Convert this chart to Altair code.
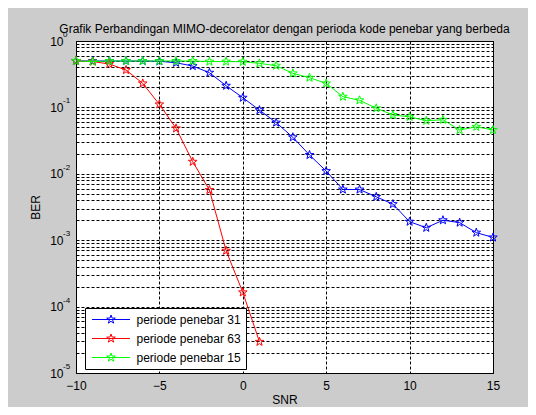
import math
import altair as alt
import pandas as pd

# ---------------- data ----------------
snr_31 = list(range(-10, 16))
ber_31 = [0.50, 0.50, 0.50, 0.50, 0.50, 0.495, 0.47, 0.42, 0.333, 0.212,
          0.14, 0.091, 0.059, 0.0355, 0.0192, 0.011, 0.0058, 0.0058, 0.0045,
          0.0035, 0.0019, 0.00154, 0.0020, 0.00184, 0.0013, 0.0011]

snr_63 = list(range(-10, 2))
ber_63 = [0.50, 0.49, 0.45, 0.366, 0.23, 0.111, 0.0484, 0.0152, 0.0057,
          0.000695, 0.000164, 2.95e-5]

snr_15 = list(range(-10, 16))
ber_15 = [0.50, 0.49, 0.50, 0.50, 0.50, 0.50, 0.50, 0.50, 0.49, 0.49,
          0.488, 0.46, 0.425, 0.326, 0.28, 0.23, 0.145, 0.128, 0.097,
          0.077, 0.072, 0.063, 0.065, 0.0457, 0.051, 0.0457]

series_names = ["periode penebar 31", "periode penebar 63", "periode penebar 15"]
series_colors = ["#0000ff", "#ff0000", "#00ff00"]

x_ticks = [-10, -5, 0, 5, 10, 15]
decades = [-5, -4, -3, -2, -1, 0]
minor_mult = [1, 2, 3, 4, 5, 6, 7, 8, 9]

title_text = "Grafik Perbandingan MIMO-decorelator dengan perioda kode penebar yang berbeda"

# ---------------- tables ----------------
df = pd.concat([
    pd.DataFrame({"snr": snr_31, "ber": ber_31, "series": series_names[0]}),
    pd.DataFrame({"snr": snr_63, "ber": ber_63, "series": series_names[1]}),
    pd.DataFrame({"snr": snr_15, "ber": ber_15, "series": series_names[2]}),
], ignore_index=True)

y_grid = [m * 10.0 ** d for d in decades[:-1] for m in minor_mult] + [1.0]
exp_df = pd.DataFrame({"ber": [10.0 ** d for d in decades],
                       "exp": [str(d) for d in decades]})

FONT = "Liberation Sans"


def star_path(R, r, cx=0.0):
    pts = []
    for i in range(10):
        a = -math.pi / 2 + i * math.pi / 5
        rad = R if i % 2 == 0 else r
        pts.append((cx + rad * math.cos(a), rad * math.sin(a)))
    return "M" + "L".join(f"{x:.3f},{y:.3f}" for x, y in pts) + "Z"


STAR = star_path(1.0, 0.40)
LEGEND_SYMBOL = "M-3.167,0L3.167,0" + star_path(0.75, 0.30)

x_enc = alt.X(
    "snr:Q",
    scale=alt.Scale(domain=[-10, 15], nice=False, zero=False),
    axis=alt.Axis(values=x_ticks, grid=True, gridDash=[3, 2], gridColor="#000000",
                  gridWidth=1, ticks=False, domain=False, labelPadding=7,
                  labelFlush=False, labelOverlap=False,
                  labelFont=FONT, labelFontSize=12, labelColor="black",
                  title="SNR", titleFont=FONT, titleFontSize=12,
                  titleFontWeight="normal", titleColor="black", titlePadding=3),
)
y_enc = alt.Y(
    "ber:Q",
    scale=alt.Scale(type="log", domain=[1e-5, 1], nice=False),
    axis=alt.Axis(values=y_grid, grid=True, gridDash=[3, 2], gridColor="#000000",
                  gridWidth=1, ticks=False, domain=False,
                  labelExpr="abs(log(datum.value)/LN10 - round(log(datum.value)/LN10)) < 0.001 ? '10' : ''",
                  labelPadding=13, labelFlush=False, labelOverlap=False,
                  labelFont=FONT, labelFontSize=12,
                  labelColor="black", labelBaseline="middle",
                  title="BER", titleFont=FONT, titleFontSize=12,
                  titleFontWeight="normal", titleColor="black", titlePadding=7),
)
color_enc = alt.Color(
    "series:N",
    scale=alt.Scale(domain=series_names, range=series_colors),
    legend=alt.Legend(orient="none", legendX=9, legendY=267, title=None,
                      fillColor="white", strokeColor="black", padding=5,
                      cornerRadius=0, symbolType=LEGEND_SYMBOL, symbolSize=144,
                      symbolStrokeWidth=1, symbolFillColor="transparent",
                      symbolOffset=14.5, labelOffset=19, rowPadding=6,
                      labelFont=FONT, labelFontSize=12, labelColor="black"),
)

layers = []
for name in series_names:
    layers.append(
        alt.Chart(df)
        .transform_filter(alt.datum.series == name)
        .mark_line(strokeWidth=1,
                   point=alt.OverlayMarkDef(shape=STAR, size=81, filled=False,
                                            strokeWidth=1))
        .encode(x=x_enc, y=y_enc, color=color_enc)
    )

exp_layer = alt.Chart(exp_df).mark_text(
    align="left", baseline="alphabetic", font=FONT, fontSize=8, color="black", dy=-4
).encode(x=alt.value(-13), y=y_enc, text="exp:N")

chart = (
    alt.layer(*layers, exp_layer)
    .properties(
        width=417, height=332,
        padding={"left": 68, "top": 33, "right": 35, "bottom": 34},
        autosize=alt.AutoSizeParams(type="none"),
        title=alt.TitleParams(title_text, font=FONT, fontSize=12, fontWeight="normal",
                              color="black", anchor="middle", offset=0, dy=5),
    )
    .configure(background="#cccccc")
    .configure_view(fill="white", stroke="black", strokeWidth=1)
)

chart.save("out.html", embed_options={"renderer": "svg", "actions": False})
